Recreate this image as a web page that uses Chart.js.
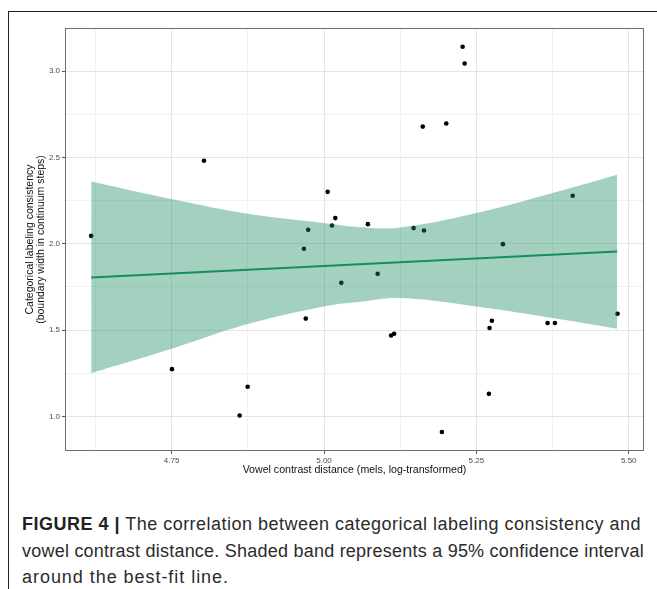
<!DOCTYPE html>
<html>
<head>
<meta charset="utf-8">
<script src="https://cdn.jsdelivr.net/npm/chart.js@4/dist/chart.umd.min.js"></script>
<style>
  html, body { margin: 0; padding: 0; background: #fff; }
  body { width: 657px; height: 589px; position: relative; overflow: hidden; }
  #frame { position: absolute; left: 8px; top: 11px; width: 660px; height: 600px;
           border-top: 1.5px solid #222; border-left: 1.5px solid #222; }
  #wrap { position: absolute; left: 0; top: 0; width: 657px; height: 480px; }
  #caption { position: absolute; left: 22px; top: 511px; font-family: "Liberation Sans", Arial, sans-serif;
             font-size: 18px; line-height: 26.5px; color: #2b2b2b; white-space: nowrap; }
  #caption .ln { display: block; width: max-content; }
  #caption b { font-weight: bold; color: #222; }
</style>
</head>
<body>
<div id="frame"></div>
<div id="wrap"><canvas id="c" width="657" height="480"></canvas></div>
<div id="caption">
  <span class="ln" data-w="619"><b>FIGURE 4 |</b> The correlation between categorical labeling consistency and</span>
  <span class="ln" data-w="622">vowel contrast distance. Shaded band represents a 95% confidence interval</span>
  <span class="ln" data-w="207">around the best-fit line.</span>
</div>
<script>
// ---- data ----
const vowelDistance = [4.618, 4.803, 4.7505, 4.8615, 4.8747, 4.967, 4.970, 4.974, 5.006, 5.013,
                       5.0185, 5.0284, 5.072, 5.088, 5.110, 5.115, 5.147, 5.162, 5.164, 5.1934,
                       5.2006, 5.2274, 5.2307, 5.2705, 5.2716, 5.2754, 5.2935, 5.3668, 5.3788, 5.408, 5.4816];
const labelingConsistency = [2.046, 2.481, 1.274, 1.006, 1.172, 1.971, 1.567, 2.081, 2.301, 2.106,
                             2.149, 1.774, 2.114, 1.826, 1.469, 1.479, 2.091, 2.679, 2.077, 0.910,
                             2.697, 3.141, 3.044, 1.131, 1.512, 1.554, 1.998, 1.541, 1.541, 2.278, 1.595];
const fitX = [4.618, 5.481];
const fitY = [1.805, 1.955];
const bandX = [4.618, 4.75, 4.875, 5.0, 5.06, 5.125, 5.25, 5.375, 5.481];
const bandUpper = [2.361, 2.259, 2.174, 2.120, 2.096, 2.094, 2.178, 2.294, 2.400];
const bandLower = [1.251, 1.392, 1.535, 1.637, 1.664, 1.686, 1.637, 1.570, 1.508];
const xMajorTicks = [4.75, 5.00, 5.25, 5.50];
const xMinorTicks = [4.625, 4.875, 5.125, 5.375];
const yMajorTicks = [1.0, 1.5, 2.0, 2.5, 3.0];
const yMinorTicks = [1.25, 1.75, 2.25, 2.75];
const xTitle = "Vowel contrast distance (mels, log-transformed)";
const yTitle = ["Categorical labeling consistency", "(boundary width in continuum steps)"];

// fit caption lines to the reference widths
document.querySelectorAll('#caption .ln').forEach(el => {
  const target = parseFloat(el.dataset.w);
  const natural = el.getBoundingClientRect().width;
  const n = el.textContent.length;
  el.style.letterSpacing = ((target - natural) / n) + 'px';
});

const pts = (xs, ys) => xs.map((x, i) => ({ x: x, y: ys[i] }));
const isMajor = (list, v) => list.some(m => Math.abs(m - v) < 1e-6);

const gridColor = (majors) => (ctx) => {
  if (!ctx.tick) return '#e6e6e6';
  return isMajor(majors, ctx.tick.value) ? '#e4e4e4' : '#f1f1f1';
};
const tickColor = (majors) => (ctx) => {
  if (!ctx.tick) return '#555';
  return isMajor(majors, ctx.tick.value) ? '#555' : 'rgba(0,0,0,0)';
};

const panelBorder = {
  id: 'panelBorder',
  afterDraw(chart) {
    const a = chart.chartArea, c = chart.ctx;
    c.save();
    c.strokeStyle = '#6e6e6e';
    c.lineWidth = 1;
    c.strokeRect(a.left + 0.5, a.top + 0.5, a.right - a.left - 1, a.bottom - a.top - 1);
    c.restore();
  }
};

new Chart(document.getElementById('c'), {
  type: 'scatter',
  data: {
    datasets: [
      { type: 'line', data: pts(fitX, fitY), borderColor: '#178c5c', borderWidth: 2,
        pointRadius: 0, fill: false },
      { type: 'line', data: pts(bandX, bandUpper), borderColor: 'rgba(0,0,0,0)', borderWidth: 0,
        pointRadius: 0, tension: 0.4, fill: '+1', backgroundColor: 'rgba(27,140,95,0.4)' },
      { type: 'line', data: pts(bandX, bandLower), borderColor: 'rgba(0,0,0,0)', borderWidth: 0,
        pointRadius: 0, tension: 0.4, fill: false },
      { type: 'scatter', data: pts(vowelDistance, labelingConsistency), backgroundColor: '#000',
        borderWidth: 0, pointRadius: 2.3 }
    ]
  },
  options: {
    responsive: false,
    animation: false,
    devicePixelRatio: 1,
    layout: { padding: { left: 0, right: 13, top: 28, bottom: 0 } },
    plugins: { legend: { display: false }, tooltip: { enabled: false } },
    scales: {
      x: {
        type: 'linear', min: 4.575, max: 5.525,
        afterBuildTicks: (s) => {
          s.ticks = xMajorTicks.concat(xMinorTicks).sort((a, b) => a - b).map(v => ({ value: v }));
        },
        afterFit: (s) => { s.height = 29; },
        ticks: {
          callback: (v) => isMajor(xMajorTicks, v) ? Number(v).toFixed(2) : '',
          font: { family: 'Liberation Sans', size: 8 }, color: '#4d4d4d', padding: 2, maxRotation: 0,
          autoSkip: false
        },
        grid: { color: gridColor(xMajorTicks), tickColor: tickColor(xMajorTicks), tickLength: 3, lineWidth: 1 },
        border: { display: false },
        title: { display: true, text: xTitle, color: '#111',
                 font: { family: 'Liberation Sans', size: 10.6, lineHeight: 1.2 }, padding: { top: 0, bottom: 4 } }
      },
      y: {
        type: 'linear', min: 0.80, max: 3.25,
        afterBuildTicks: (s) => {
          s.ticks = yMajorTicks.concat(yMinorTicks).sort((a, b) => a - b).map(v => ({ value: v }));
        },
        afterFit: (s) => { s.width = 65; },
        ticks: {
          callback: (v) => isMajor(yMajorTicks, v) ? Number(v).toFixed(1) : '',
          font: { family: 'Liberation Sans', size: 8 }, color: '#4d4d4d', padding: 2, autoSkip: false
        },
        grid: { color: gridColor(yMajorTicks), tickColor: tickColor(yMajorTicks), tickLength: 3, lineWidth: 1 },
        border: { display: false },
        title: { display: true, text: yTitle, color: '#111',
                 font: { family: 'Liberation Sans', size: 10.5, lineHeight: 1.1 }, padding: { top: 24, bottom: 0 } }
      }
    }
  },
  plugins: [panelBorder]
});
</script>
</body>
</html>
